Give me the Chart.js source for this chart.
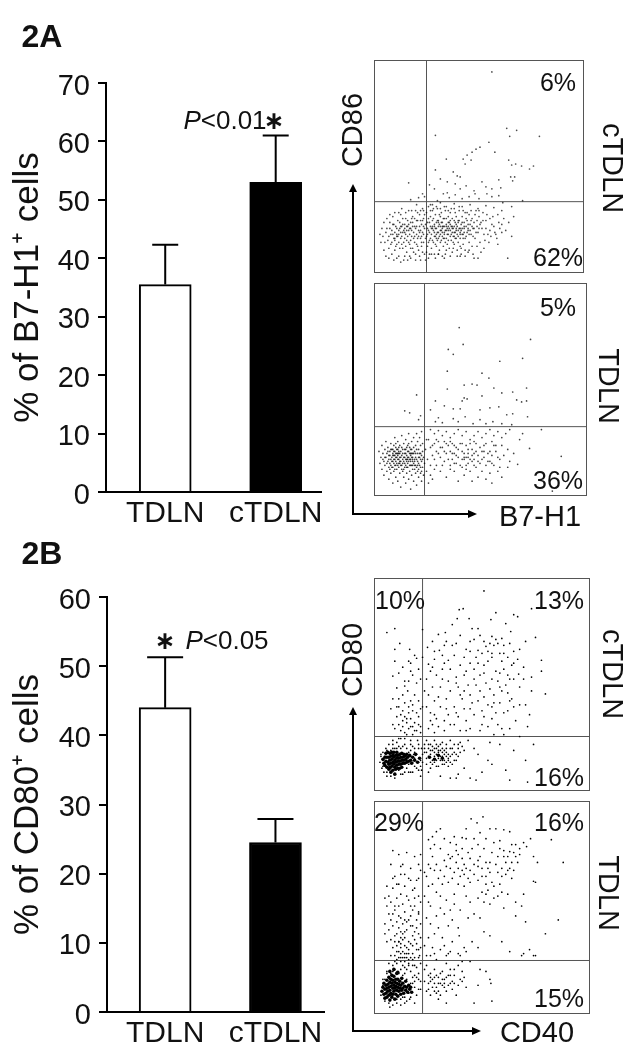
<!DOCTYPE html>
<html>
<head>
<meta charset="utf-8">
<title>Figure 2</title>
<script src="https://cdn.jsdelivr.net/npm/chart.js@4"></script>
<style>
    html, body { margin: 0; padding: 0; background: #fff; }
    #page { position: relative; width: 635px; height: 1050px; overflow: hidden; font-family: "Liberation Sans", Arial, sans-serif; color: #111; }
    canvas { position: absolute; }
    .panel { box-sizing: border-box; border: 1px solid #555; }
    .label { position: absolute; white-space: nowrap; line-height: 1; }
    svg { position: absolute; left: 0; top: 0; }
</style>
</head>
<body>
<div id="page">
    <canvas id="barA" class="bar"></canvas>
    <canvas id="barB" class="bar"></canvas>
    <canvas id="dotA1" class="panel"></canvas>
    <canvas id="dotA2" class="panel"></canvas>
    <canvas id="dotB1" class="panel"></canvas>
    <canvas id="dotB2" class="panel"></canvas>
    <svg width="635" height="1050">
        <path d="M353 186V514H470M353 709V1031H474" fill="none" stroke="#000" stroke-width="2"/>
        <path d="M353 184l-4 8h8zM477 514l-9-4v8zM353 707l-4 8h8zM481 1031l-9-4v8z" fill="#000"/>
    </svg>
</div>
<script>
const barCategories = ['TDLN', 'cTDLN'];
const b7h1Means = [35.5, 53];
const b7h1Errors = [6.8, 8];
const cd80Means = [44, 24.5];
const cd80Errors = [7.3, 3.4];

// gate positions on each dot plot, [x, y] in channel units
const gateA1 = [52, 71];
const gateA2 = [50, 69];
const gateB1 = [48, 54];
const gateB2 = [48, 53];

const dotsA1 = [[118,202],[133,145],[143,143],[136,137],[166,137],[61,138],[115,131],[106,126],[102,124],[98,121],[93,118],[89,114],[72,114],[91,109],[97,113],[121,121],[135,113],[142,109],[138,108],[148,107],[160,107],[156,104],[61,103],[79,101],[83,97],[86,96],[34,90],[55,88],[66,94],[73,91],[81,89],[92,87],[108,91],[125,93],[137,96],[141,96],[139,92],[69,79],[73,80],[81,78],[101,79],[113,79],[125,77],[149,72],[129,70],[48,79],[44,75],[50,76],[63,72],[75,75],[88,74],[95,76],[105,74],[118,76],[60,84],[86,84],[100,82],[112,86],[118,84],[127,85],[36,73],[42,68],
[58,68],[66,70],[72,66],[80,69],[88,66],[96,68],[104,64],[112,67],[120,65],[128,62],[138,66],[124,58],[130,54],[140,56],[112,52],[118,48],[126,44],[116,42],[128,40],[138,36],[124,28],[134,14],[100,14],[104,14],[70,14],[64,18],[110,24],[94,20],[86,16],
[5,38],[8,36],[10,30],[12,44],[14,36],[15,50],[16,28],[17,42],[18,56],[19,34],[20,22],[21,46],[22,38],[23,52],[24,30],[24,16],[25,44],[26,58],[27,36],[28,24],[28,48],[29,12],[30,40],[31,54],[32,32],[32,20],[33,46],[34,62],[35,28],[35,38],[36,50],[36,14],[37,42],[38,24],[38,56],[39,34],[40,46],[41,18],[41,62],[42,38],[42,28],[43,52],[44,42],[44,22],[45,58],[46,34],[46,12],[47,48],[47,26],[48,40],[48,64],[49,30],[49,54],[50,18],[50,44],
[52,60],[52,36],[53,26],[53,50],[54,66],[54,42],[55,18],[55,32],[56,56],[56,46],[57,24],[57,38],[58,62],[58,52],[59,30],[59,42],[60,18],[60,48],[61,58],[61,36],[62,26],[62,44],[63,52],[63,64],[64,34],[64,40],[65,22],[65,48],[66,56],[66,30],[67,42],[67,60],[68,36],[68,50],[69,26],[69,46],[70,54],[70,40],[71,18],[71,62],[72,34],[72,48],[73,44],[73,28],[74,56],[74,38],[75,24],[75,50],[76,42],[76,60],[77,32],[77,46],[78,20],[78,54],[79,36],[79,44],[80,28],[80,64],[81,50],[81,40],[82,34],[82,56],[83,22],[83,46],[84,42],[84,30],[85,52],[85,62],[86,38],[86,26],[87,48],[87,18],[88,44],[88,56],[89,34],[89,28],[90,50],[90,40],[91,60],[91,22],[92,46],[92,36],[93,52],[94,42],[95,30],[95,58],[96,48],[97,38],[98,54],[98,26],[99,44],[100,50],[101,34],[102,62],[103,46],[104,40],[105,56],[106,30],[107,50],[108,44],
[14,24],[18,48],[20,40],[22,28],[24,42],[26,34],[27,46],[29,30],[30,48],[31,38],[33,36],[34,42],[36,32],[37,54],[38,46],[40,30],[40,54],[42,46],[43,34],[45,40],[46,52],[47,36],[49,46],[60,40],[62,38],[64,46],[66,42],[68,44],[70,38],[72,42],[74,46],[76,36],[78,40],[80,46],[82,42],[84,36],[86,44],[90,46],[94,44],
[11,40],[13,32],[15,44],[16,38],[17,30],[19,48],[20,32],[21,26],[22,44],[23,36],[25,24],[25,50],[26,40],[27,28],[28,54],[29,42],[30,34],[31,26],[32,46],[33,52],[34,30],[35,44],[36,24],[37,36],[38,50],[39,40],[40,36],[41,44],[42,52],[43,26],[44,36],[45,46],[46,42],[47,30],[48,52],[49,38],[50,58],[51,34],[51,48],[53,38],[53,44],[54,30],[54,54],[55,40],[55,50],[56,34],[56,62],[57,44],[58,32],[58,46],[59,54],[60,36],[61,44],[61,28],[62,50],[63,40],[63,32],[64,52],[65,36],[65,58],[66,46],[67,32],[67,50],[68,40],[69,34],[69,54],[70,46],[71,30],[71,42],[72,54],[73,38],[74,32],[74,50],[75,44],[76,52],[77,38],[78,46],[79,30],[80,40],[80,52],[81,34],[82,48],[83,38],[84,52],[85,44],[86,34],[87,42],[88,50],[89,38],[90,44],[91,34],[92,54],[93,40],[94,48],[95,38],[96,42],[97,52],[98,46],[99,36],[100,44],[102,40],[103,52],[105,44],[106,48],[109,52],[110,38],[112,44],[114,38],[116,54],[120,46],[122,38],
[6,30],[7,44],[9,22],[9,50],[11,16],[12,54],[14,14],[15,58],[17,18],[19,12],[20,60],[22,14],[24,60],[26,10],[27,64],[30,16],[31,60],[33,12],[35,16],[37,62],[39,20],[41,12],[43,60],[45,16],[46,62],[48,20],[49,62],[51,12],[52,20],[54,14],[56,68],[57,18],[59,64],[61,14],[62,66],[64,18],[66,64],[68,16],[70,66],[72,22],[74,62],[76,16],[77,64],[79,24],[81,60],[83,16],[85,66],[87,24],[89,62],[91,16],[93,60],[95,22],[97,62],[99,18],[101,58],[103,26],[105,62],[107,20],[109,60],[111,32],[113,58],[115,30],[117,36],[119,56],[121,40],[123,34],[125,50],[128,48],[132,42],[135,50],
[58,44],[60,46],[62,34],[64,50],[66,38],[68,46],[70,34],[72,46],[74,42],[76,48],[78,44],[80,36],[82,44],[84,50],[86,40],[88,38],[18,38],[20,34],[22,36],[24,38],[26,46],[28,40],[30,44],[32,42],[34,48],[36,44]];

const dotsA2 = [[85,169],[157,157],[89,152],[74,147],[79,142],[149,138],[126,135],[73,125],[108,123],[115,118],[90,111],[98,112],[103,111],[73,107],[120,108],[153,108],[128,103],[139,104],[42,101],[108,100],[90,98],[93,97],[88,95],[61,95],[143,96],[148,94],[153,95],[70,90],[79,87],[86,87],[30,85],[35,83],[56,86],[116,88],[125,89],[106,86],[133,81],[139,82],[154,79],[46,80],[44,76],[61,74],[79,77],[91,79],[106,76],[119,74],[64,78],[68,73],[84,74],[99,72],[112,72],[128,72],[138,71],[168,66],[149,62],[156,47],[188,39],[144,31],[179,4],
[56,66],[60,62],[64,65],[68,60],[72,64],[76,58],[80,62],[84,66],[88,60],[92,64],[96,56],[100,60],[104,64],[108,58],[112,62],[116,66],[120,60],[124,64],[128,58],[132,62],[136,66],[118,54],[122,50],[128,50],[134,46],[140,42],[146,56],
[54,56],[56,48],[58,40],[60,52],[62,44],[62,30],[64,54],[66,38],[66,24],[68,48],[70,34],[70,54],[72,42],[72,18],[74,50],[76,30],[76,44],[78,36],[78,52],[80,24],[80,42],[82,48],[82,32],[84,14],[84,38],[86,52],[88,28],[88,44],[90,36],[90,20],[92,50],[94,32],[94,42],[96,24],[98,46],[98,14],[100,36],[102,28],[102,52],[104,40],[104,18],[106,32],[108,44],[108,24],[110,38],[110,50],[112,30],[112,16],[114,42],[116,34],[116,22],[118,40],[118,12],[120,30],[122,44],[124,24],[126,36],[128,18],[130,40],[134,28],[136,34],[92,30],[94,38],[98,34],[100,42],[56,20],[58,16],[60,26],[88,36],[90,38],[92,38],
[4,44],[5,32],[6,38],[7,50],[7,26],[8,42],[9,34],[9,20],[10,46],[10,30],[11,38],[11,54],[12,24],[12,42],[13,34],[13,48],[14,16],[14,28],[14,40],[15,44],[15,32],[16,52],[16,22],[16,36],[17,46],[17,28],[18,40],[18,12],[18,34],[19,50],[19,24],[19,44],[20,36],[20,30],[20,58],[21,42],[21,18],[21,48],[22,32],[22,38],[22,26],[23,46],[23,54],[23,14],[24,36],[24,42],[24,28],[25,50],[25,22],[25,34],[26,44],[26,38],[26,8],[27,30],[27,48],[27,60],[28,36],[28,24],[28,42],[29,52],[29,18],[29,34],[30,46],[30,28],[30,38],[31,42],[31,12],[31,56],[32,34],[32,22],[32,48],[33,38],[33,44],[33,28],[34,52],[34,16],[34,62],[35,36],[35,42],[35,24],[36,46],[36,30],[36,6],[37,38],[37,54],[37,20],[38,42],[38,34],[38,26],[39,48],[39,14],[39,58],[40,36],[40,30],[40,44],[41,22],[41,50],[41,38],[42,28],[42,62],[42,10],[43,42],[43,34],[43,54],[44,18],[44,46],[44,26],[45,38],[45,30],[45,58],[46,42],[46,22],[46,50],[47,34],[47,14],[47,64],[48,28],[48,44],[48,52],[49,38],[49,20],[50,32],[51,46],[52,24],[52,56],[53,36],[54,12],
[18,42],[19,40],[20,44],[21,38],[22,42],[23,40],[24,44],[25,38],[19,36],[21,34],[23,36],[25,32],[31,36],[32,40],[33,36],[34,38],[36,40],[36,36],[37,42],[38,38],
[8,36],[10,38],[12,32],[13,44],[14,36],[15,26],[15,40],[16,30],[16,46],[17,38],[17,34],[18,28],[18,46],[19,32],[20,26],[20,40],[21,30],[21,52],[22,46],[23,30],[23,42],[24,32],[24,48],[25,42],[26,30],[26,34],[27,40],[27,26],[28,32],[28,46],[29,38],[29,26],[30,32],[30,42],[31,30],[31,46],[32,36],[32,28],[33,32],[33,50],[34,34],[34,44],[35,30],[35,48],[36,34],[36,42],[37,30],[37,46],[38,36],[38,30],[39,32],[39,42],[40,34],[40,26],[41,42],[41,30],[42,36],[42,46],[43,30],[43,24],[44,38],[44,32],[45,42],[46,36],[46,28],[47,40],[47,24],[48,36],
[56,30],[58,50],[60,36],[62,56],[64,42],[66,48],[68,30],[70,44],[72,52],[74,36],[76,26],[76,54],[78,42],[80,32],[80,50],[82,40],[84,46],[86,30],[88,52],[90,42],[92,26],[94,46],[96,36],[96,52],[98,40],[100,30],[100,54],[102,44],[104,34],[106,48],[108,36],[110,44],[112,52],[114,34],[116,44],[118,32],[120,50],[124,38],[126,28]];

const dotsB1 = [[110,201],[85,182],[89,183],[158,183],[83,173],[122,179],[140,177],[144,175],[95,173],[78,167],[117,172],[132,168],[12,159],[20,163],[48,162],[64,157],[71,159],[98,163],[104,163],[137,160],[162,154],[152,150],[118,155],[122,152],[110,150],[116,148],[120,146],[128,153],[136,148],[146,142],[25,148],[20,142],[35,142],[53,144],[65,141],[92,142],[96,140],[104,141],[112,145],[126,138],[134,134],[144,132],[168,131],[168,120],[34,130],[42,133],[28,124],[36,128],[40,136],[24,118],[38,116],[44,122],[54,127],[60,132],[74,131],[76,122],[86,126],[96,128],[102,134],[110,126],[114,130],[122,120],[130,122],[145,117],[150,112],[158,114],[172,97],[158,100],[18,115],[30,105],[34,110],[33,100],[40,96],[22,103],[56,120],[62,116],[68,112],[82,114],[90,116],[100,112],[106,116],[112,108],[118,112],[132,106],[128,100],[134,98],[140,112],[66,104],[76,100],[84,104],[94,106],[96,96],[106,100],[120,96],[50,100],[54,96],[60,90],[72,92],[80,84],[88,92],[104,90],[114,86],[126,88],[130,78],[146,86],[152,86],[16,82],[24,84],[28,80],[34,78],[38,86],[44,90],[28,70],[36,72],[40,68],[44,74],[22,74],[18,66],[56,78],[62,72],[66,84],[74,76],[84,74],[92,70],[100,76],[108,66],[118,72],[124,66],[134,80],[142,70],[156,76],[154,64],[26,60],[30,58],[34,62],[38,56],[42,60],[46,64],[54,62],[58,66],[60,58],[70,60],[76,66],[86,60],[96,62],[106,60],[120,56],[130,56],[146,54],[140,40],[160,46],[152,30],[126,46],[104,36],[114,30],[116,48],[132,20],[118,26],[108,18],[84,16],[82,12],[76,12],[66,14],[54,18],[136,10],[154,8],[102,10],[96,12],[90,22],[100,42],[94,50],[86,48],
[52,50],[56,46],[60,50],[64,44],[68,48],[72,42],[76,50],[80,46],[84,42],[88,44],[50,38],[54,34],[58,40],[62,36],[66,30],[70,36],[72,28],[76,34],[80,30],[82,36],[52,26],[56,22],[60,28],[64,24],[68,26],[74,24],[50,46],[58,30],[62,42],[66,40],[70,30],[54,42],[60,34],[64,32],[68,34],[72,34],
[6,36],[8,30],[10,24],[12,40],[12,18],[14,46],[16,14],[18,42],[20,12],[22,48],[24,20],[26,42],[28,16],[30,46],[32,22],[34,38],[36,18],[38,44],[40,24],[42,36],[44,20],[46,30],[47,42],[46,14],[43,50],[36,50],[30,52],[24,52],[18,50],[40,32],[36,34],[32,30],[28,26],[44,28],[16,22],[14,30],[10,34],[8,24],[34,26],[38,28],
[58,150],[70,146],[82,148],[100,152],[108,138],[118,138],[128,130],[138,126],[48,134],[58,104],[70,128],[80,136],[92,120],[100,122],[110,118],[124,110],[134,116],[74,110],[86,96],[110,94],[118,84],[136,90],[64,94],[96,82],[108,80],[122,78],[52,84],[60,76],[70,70],[80,66],[92,60],[114,64],[136,62],[28,96],[24,92],[36,90],[30,88],[32,68],[38,64],[20,62],[26,52],[32,56],[36,46],[44,46],[40,42],[48,36],[52,38],[56,40],[60,42],[64,38],[68,38],[72,38],[76,42],[78,36],[84,34],[74,32],[62,30],[56,28],
[72,150],[86,156],[106,156],[130,146],[140,140],[96,150],[114,140],[124,148],[130,138],[140,128],[150,124],[60,140],[68,136],[78,146],[90,134],[104,128],[118,134],[126,118],[136,112],[146,104],[52,112],[58,124],[68,122],[82,108],[90,100],[102,106],[116,102],[126,104],[138,92],[48,84],[56,70],[64,64],[72,82],[82,78],[90,82],[98,88],[110,74],[120,88],[128,62],[140,84],[18,92],[22,84],[26,76],[30,74],[34,84],[38,80],[42,78],[46,82],[28,64],[32,72],[40,60],[44,66],[36,64],[24,66],[46,58],[30,110],[36,120],[42,108],[46,112],[20,130],
[50,42],[52,32],[54,46],[56,36],[58,26],[58,44],[60,38],[62,46],[62,24],[64,40],[66,34],[66,46],[68,30],[68,42],[70,26],[70,40],[72,46],[74,36],[74,30],[76,28],[78,42],[78,26],[80,38],[82,30],[84,46],[86,38],[90,40],
[5,28],[6,34],[7,22],[8,38],[9,18],[11,42],[12,14],[16,40],[18,46],[20,42],[22,42],[24,44],[26,16],[28,44],[30,18],[32,42],[34,18],[36,40],[38,18],[40,38],[42,22],[44,42],[46,24],[48,28],[47,20],[39,36]];
const coreB1 = [[8,31],[9,27],[10,33],[10,25],[11,37],[11,29],[12,23],[12,33],[13,28],[13,38],[14,21],[14,33],[14,26],[15,37],[15,30],[15,23],[16,34],[16,27],[16,18],[17,38],[17,31],[17,24],[18,35],[18,28],[18,20],[19,33],[19,26],[19,38],[20,30],[20,23],[20,16],[21,35],[21,28],[21,21],[22,32],[22,25],[22,38],[23,29],[23,22],[23,35],[24,32],[24,26],[25,36],[25,29],[25,22],[26,33],[26,26],[27,37],[27,30],[27,23],[28,33],[28,27],[29,36],[29,30],[30,34],[30,27],[31,31],[32,36],[32,28],[33,33],[34,29],[35,35],[36,30],[37,27],[38,33],[40,30],[41,36],[43,28],[45,32],[55,33],[68,32],[60,31],[64,35]];

const dotsB2 = [[109,198],[97,196],[103,192],[116,186],[122,186],[130,185],[136,183],[88,177],[92,176],[82,170],[76,172],[62,183],[66,186],[58,178],[54,175],[88,166],[94,162],[104,170],[110,166],[120,172],[118,162],[130,164],[136,163],[130,158],[140,162],[146,160],[150,172],[157,176],[153,168],[178,175],[84,160],[88,156],[90,150],[82,152],[66,166],[72,148],[58,158],[54,150],[52,138],[50,142],[60,144],[64,136],[70,138],[74,132],[80,142],[84,130],[88,144],[96,132],[100,150],[100,140],[104,134],[108,146],[112,138],[116,152],[120,128],[124,142],[126,130],[132,152],[136,146],[138,136],[144,152],[134,120],[140,144],[142,158],[160,158],[164,152],[190,152],[160,133],[162,132],[150,120],[148,108],[114,124],[120,116],[108,122],[116,110],[124,118],[112,130],[96,112],[92,118],[76,104],[72,114],[62,122],[56,108],[50,118],[52,96],[62,98],[70,100],[78,94],[86,104],[100,100],[106,96],[130,106],[142,98],[152,92],[185,94],[172,80],[110,82],[116,78],[98,72],[85,78],[78,72],[68,76],[60,80],[54,76],[50,68],[58,66],[66,64],[76,62],[84,60],[92,62],[104,66],[128,72],[136,62],[156,64],[148,58],[150,60],[160,58],[162,58],[74,60],[52,58],[56,58],[62,54],[72,58],[86,58],[88,52],[96,52],
[18,164],[24,160],[32,162],[40,158],[46,160],[16,150],[28,150],[36,146],[44,150],[20,138],[26,140],[34,136],[42,134],[46,144],[12,128],[18,126],[24,130],[30,128],[38,124],[44,118],[10,116],[16,112],[22,116],[28,110],[34,114],[40,108],[46,112],[10,90],[14,100],[20,104],[24,98],[30,102],[36,98],[42,94],[46,90],[14,84],[18,88],[24,86],[28,90],[32,84],[36,88],[40,82],[44,80],[10,80],[16,74],[20,78],[24,72],[30,76],[34,72],[38,78],[42,70],[46,76],[18,66],[22,62],[26,66],[30,60],[34,64],[38,60],[42,64],[20,58],[24,56],[28,62],[32,56],[36,56],[40,56],[45,58],[46,66],
[14,50],[18,48],[22,50],[26,52],[30,46],[34,50],[38,48],[42,46],[46,50],[12,42],[16,40],[20,44],[26,44],[30,40],[36,42],[40,38],[44,40],[8,28],[10,34],[12,22],[14,36],[16,18],[22,14],[28,16],[32,12],[36,16],[40,10],[44,24],[46,32],[36,30],[40,26],[18,8],[26,8],[35,14],[15,6],
[52,48],[56,40],[60,44],[64,36],[68,42],[72,50],[76,44],[80,38],[84,48],[88,42],[54,30],[58,34],[62,26],[66,30],[70,34],[74,28],[78,32],[86,34],[90,36],[92,26],[52,22],[56,18],[60,22],[66,18],[64,14],[82,18],[100,10],[72,10],[106,44],[112,42],[116,34],[117,30],[104,28],[118,12],
[70,154],[78,158],[96,156],[106,158],[112,152],[124,158],[126,166],[134,158],[138,170],[74,160],[92,146],[104,148],[116,142],[128,146],[132,140],[56,146],[66,144],[76,146],[84,146],[96,144],[54,128],[66,118],[80,120],[90,128],[110,112],[104,116],[56,90],[64,86],[74,88],[26,120],[32,118],[20,108],[26,96],[32,92],[22,92],[38,104],[44,102],[28,80],[22,68],[26,56],[30,68],[34,54],[38,68],[20,52],[28,48],[32,44],[38,54],[24,40],[44,56],[16,58],[24,72],[30,56],[34,60],[26,76],
[56,32],[60,36],[64,30],[68,28],[72,36],[76,38],[80,30],[58,26],[62,20],[70,26],
[60,170],[70,176],[80,178],[92,186],[100,176],[106,182],[112,176],[126,174],[142,170],[146,166],[98,166],[76,156],[82,164],[90,140],[94,136],[108,138],[114,146],[118,132],[122,150],[128,138],[134,144],[138,152],[56,166],[62,150],[68,130],[78,136],[86,138],[104,154],[112,120],[128,122],[142,112],[58,130],[54,112],[66,106],[80,110],[94,96],[84,86],[60,60],[70,68],[90,66],
[14,118],[18,136],[22,130],[26,148],[30,140],[36,134],[40,126],[44,136],[12,108],[18,100],[24,108],[30,94],[36,108],[40,116],[44,100],[12,72],[16,94],[22,80],[26,82],[30,82],[34,94],[38,88],[42,86],[20,72],[26,70],[28,74],[32,66],[36,70],[40,74],[44,64],[22,54],[26,60],[30,52],[34,48],[40,48],[24,62],[28,56],[32,60],
[54,24],[56,36],[60,30],[62,38],[64,22],[66,40],[68,34],[70,30],[72,22],[74,38],[76,30],[78,24],[80,44],[84,28],[88,32],[50,32],[50,44],[54,38],
[6,18],[8,34],[10,12],[12,40],[14,10],[18,42],[22,10],[26,14],[30,16],[34,20],[38,30],[40,32],[42,18],[44,34],[42,36],[38,36],[32,34],[28,38],[46,24],[30,10]];
const coreB2 = [[7,22],[8,26],[9,19],[9,30],[10,24],[10,15],[11,28],[11,20],[12,33],[12,25],[12,16],[13,29],[13,22],[14,36],[14,26],[14,18],[15,31],[15,23],[15,13],[16,34],[16,27],[16,20],[17,38],[17,30],[17,16],[18,25],[18,33],[18,19],[19,28],[19,22],[19,37],[20,31],[20,25],[20,14],[21,34],[21,27],[21,19],[22,30],[22,23],[22,40],[23,26],[23,34],[23,17],[24,29],[24,22],[25,32],[25,25],[26,28],[26,19],[27,35],[27,23],[28,30],[28,25],[29,20],[30,27],[31,32],[31,23],[32,26],[33,21],[34,28],[35,24],[36,26],[37,21],[15,42],[19,44],[23,41]];

function addLabel(html, cx, cy, size, options = {}) {
    const el = document.createElement('div');
    el.className = 'label';
    el.innerHTML = html;
    el.style.left = cx + 'px';
    el.style.top = cy + 'px';
    el.style.fontSize = size + 'px';
    if (options.bold) el.style.fontWeight = 'bold';
    if (options.font) el.style.fontFamily = options.font;
    el.style.transform = `translate(-50%, -50%) rotate(${options.rotate || 0}deg)`;
    document.getElementById('page').appendChild(el);
}

const errorBars = {
    id: 'errorBars',
    afterDatasetsDraw(chart, args, opts) {
        const { ctx, scales } = chart;
        ctx.save();
        ctx.strokeStyle = '#000';
        ctx.lineWidth = 2;
        opts.means.forEach((mean, i) => {
            const x = scales.x.getPixelForValue(i + 1);
            const top = scales.y.getPixelForValue(mean + opts.errors[i]);
            const bottom = scales.y.getPixelForValue(mean);
            ctx.beginPath();
            ctx.moveTo(x, bottom);
            ctx.lineTo(x, top);
            ctx.moveTo(x - opts.capWidth / 2, top);
            ctx.lineTo(x + opts.capWidth / 2, top);
            ctx.stroke();
        });
        ctx.restore();
    }
};

function drawBarChart(id, box, means, errors, axis) {
    const canvas = document.getElementById(id);
    canvas.style.left = box.left + 'px';
    canvas.style.top = box.top + 'px';
    canvas.width = box.width;
    canvas.height = box.height;

    new Chart(canvas, {
        type: 'bar',
        data: {
            datasets: [{
                data: means.map((m, i) => ({ x: i + 1, y: m })),
                backgroundColor: ['#fff', '#000'],
                borderColor: '#000',
                borderWidth: 2,
                barThickness: 52
            }]
        },
        plugins: [errorBars],
        options: {
            responsive: false,
            animation: false,
            events: [],
            layout: { padding: { top: axis.paddingTop, right: axis.paddingRight, left: 0, bottom: 0 } },
            plugins: {
                legend: { display: false },
                tooltip: { enabled: false },
                errorBars: { means: means, errors: errors, capWidth: axis.capWidth }
            },
            scales: {
                x: {
                    type: 'linear',
                    offset: false,
                    min: axis.xMin,
                    max: axis.xMax,
                    afterBuildTicks: scale => { scale.ticks = [{ value: 1 }, { value: 2 }]; },
                    afterFit: scale => { scale.height = axis.bottomHeight; },
                    grid: { display: false, drawTicks: false },
                    border: { color: '#000', width: 2 },
                    ticks: {
                        color: '#111',
                        autoSkip: false,
                        maxRotation: 0,
                        padding: 4,
                        font: { family: 'Liberation Sans', size: 30 },
                        callback: v => barCategories[v - 1]
                    }
                },
                y: {
                    min: 0,
                    max: axis.yMax,
                    afterFit: scale => { scale.width = axis.leftWidth; },
                    grid: { drawOnChartArea: false, color: '#000', lineWidth: 2, tickLength: 8 },
                    border: { color: '#000', width: 2 },
                    ticks: {
                        stepSize: 10,
                        color: '#111',
                        padding: 8,
                        // empty first line pushes the number about 3px below its tick, as in the figure
                        font: { family: 'Liberation Sans', size: 29, lineHeight: '7px' },
                        callback: v => ['', String(v)]
                    },
                    title: {
                        display: true,
                        text: axis.title,
                        color: '#111',
                        padding: { top: 7, bottom: 0 },
                        font: { family: 'Liberation Sans', size: 35 }
                    }
                }
            }
        }
    });
}

function drawDotPlot(id, box, gate, dots, core, dotColor) {
    const canvas = document.getElementById(id);
    canvas.style.left = box.left + 'px';
    canvas.style.top = box.top + 'px';
    canvas.style.width = box.width + 'px';
    canvas.style.height = box.height + 'px';
    canvas.width = box.width - 2;
    canvas.height = box.height - 2;

    const toPoints = list => list.map(([x, y]) => ({ x, y }));
    const gateLine = points => ({
        data: points,
        showLine: true,
        borderColor: '#555',
        borderWidth: 1,
        pointRadius: 0
    });

    new Chart(canvas, {
        type: 'scatter',
        data: {
            datasets: [
                { data: toPoints(dots), pointRadius: 0.85, pointBorderWidth: 0, backgroundColor: dotColor },
                { data: toPoints(core), pointRadius: 1.8, pointBorderWidth: 0, backgroundColor: '#000' },
                gateLine([{ x: gate[0], y: 0 }, { x: gate[0], y: box.height }]),
                gateLine([{ x: 0, y: gate[1] }, { x: box.width, y: gate[1] }])
            ]
        },
        options: {
            responsive: false,
            animation: false,
            events: [],
            layout: { autoPadding: false },
            plugins: { legend: { display: false }, tooltip: { enabled: false } },
            scales: {
                x: { display: false, min: 0, max: box.width },
                y: { display: false, min: 0, max: box.height }
            }
        }
    });
}

document.addEventListener('DOMContentLoaded', () => {
    drawBarChart('barA', { left: 0, top: 60, width: 340, height: 475 }, b7h1Means, b7h1Errors, {
        paddingTop: 23, paddingRight: 19, bottomHeight: 43, leftWidth: 106,
        xMin: 0.464, xMax: 2.41, yMax: 70, capWidth: 26, title: '% of B7-H1⁺ cells'
    });
    drawBarChart('barB', { left: 0, top: 575, width: 340, height: 475 }, cd80Means, cd80Errors, {
        paddingTop: 22, paddingRight: 16, bottomHeight: 38, leftWidth: 107,
        xMin: 0.473, xMax: 2.44, yMax: 60, capWidth: 36, title: '% of CD80⁺ cells'
    });

    drawDotPlot('dotA1', { left: 374, top: 60, width: 210, height: 213 }, gateA1, dotsA1, [], 'rgba(0,0,0,0.7)');
    drawDotPlot('dotA2', { left: 374, top: 283, width: 213, height: 213 }, gateA2, dotsA2, [], 'rgba(0,0,0,0.75)');
    drawDotPlot('dotB1', { left: 374, top: 578, width: 216, height: 213 }, gateB1, dotsB1, coreB1, '#000');
    drawDotPlot('dotB2', { left: 374, top: 801, width: 216, height: 213 }, gateB2, dotsB2, coreB2, '#000');

    addLabel('2A', 42, 36, 32, { bold: true });
    addLabel('2B', 42, 553, 32, { bold: true });

    addLabel('<i>P</i>&lt;0.01', 225, 120, 26);
    addLabel('∗', 274, 120, 25, { font: 'DejaVu Sans', bold: true });
    addLabel('∗', 165, 640, 25, { font: 'DejaVu Sans', bold: true });
    addLabel('<i>P</i>&lt;0.05', 227, 640, 26);

    addLabel('CD86', 352, 130, 29, { rotate: -90 });
    addLabel('cTDLN', 612, 168, 29, { rotate: 90 });
    addLabel('TDLN', 608, 386, 29, { rotate: 90 });
    addLabel('B7-H1', 540, 516, 29);
    addLabel('6%', 558, 82, 25);
    addLabel('62%', 558, 257, 25);
    addLabel('5%', 558, 307, 25);
    addLabel('36%', 558, 480, 25);

    addLabel('CD80', 352, 660, 29, { rotate: -90 });
    addLabel('cTDLN', 612, 674, 29, { rotate: 90 });
    addLabel('TDLN', 608, 893, 29, { rotate: 90 });
    addLabel('CD40', 537, 1032, 29);
    addLabel('10%', 400, 600, 25);
    addLabel('13%', 559, 600, 25);
    addLabel('16%', 559, 777, 25);
    addLabel('29%', 399, 822, 25);
    addLabel('16%', 559, 822, 25);
    addLabel('15%', 559, 998, 25);
});
</script>
</body>
</html>
